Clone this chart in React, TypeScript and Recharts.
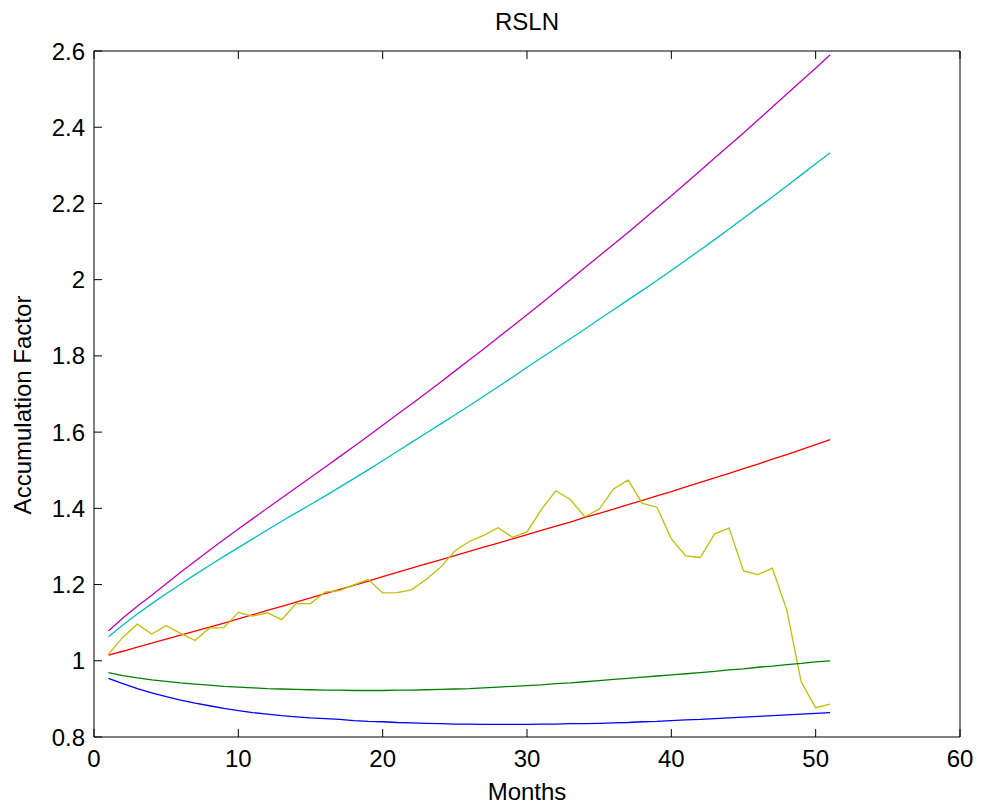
import React from "react";
import { LineChart, Line, XAxis, YAxis, Label } from "recharts";

const months = [
  1, 2, 3, 4, 5, 6, 7, 8, 9, 10, 11, 12, 13, 14, 15, 16, 17, 18, 19, 20, 21, 22, 23, 24, 25, 26,
  27, 28, 29, 30, 31, 32, 33, 34, 35, 36, 37, 38, 39, 40, 41, 42, 43, 44, 45, 46, 47, 48, 49, 50, 51,
];

const magenta = [
  1.078, 1.112, 1.143, 1.172, 1.202, 1.232, 1.261, 1.29, 1.318, 1.346, 1.373, 1.4, 1.427, 1.454,
  1.481, 1.508, 1.535, 1.562, 1.59, 1.618, 1.646, 1.674, 1.702, 1.731, 1.76, 1.789, 1.818, 1.848,
  1.878, 1.908, 1.938, 1.969, 2.0, 2.031, 2.062, 2.093, 2.124, 2.156, 2.188, 2.22, 2.253, 2.286,
  2.319, 2.352, 2.385, 2.419, 2.453, 2.487, 2.521, 2.555, 2.59,
];

const cyan = [
  1.063, 1.094, 1.123, 1.15, 1.176, 1.201, 1.226, 1.25, 1.274, 1.297, 1.32, 1.343, 1.366, 1.388,
  1.41, 1.432, 1.455, 1.478, 1.501, 1.525, 1.549, 1.573, 1.597, 1.621, 1.645, 1.669, 1.694, 1.719,
  1.744, 1.77, 1.795, 1.82, 1.845, 1.87, 1.896, 1.921, 1.947, 1.972, 1.998, 2.024, 2.051, 2.078,
  2.105, 2.133, 2.161, 2.189, 2.217, 2.246, 2.275, 2.304, 2.333,
];

const red = [
  1.015, 1.025, 1.036, 1.046, 1.057, 1.067, 1.078, 1.088, 1.099, 1.11, 1.121, 1.132, 1.143, 1.154,
  1.165, 1.176, 1.187, 1.198, 1.209, 1.221, 1.232, 1.243, 1.254, 1.265, 1.276, 1.287, 1.298, 1.309,
  1.32, 1.331, 1.342, 1.353, 1.364, 1.376, 1.387, 1.398, 1.41, 1.421, 1.433, 1.444, 1.456, 1.468,
  1.48, 1.492, 1.504, 1.516, 1.529, 1.541, 1.554, 1.567, 1.58,
];

const yellow = [
  1.017, 1.062, 1.096, 1.07, 1.092, 1.072, 1.053, 1.086, 1.087, 1.127, 1.117, 1.126, 1.108, 1.15,
  1.15, 1.18, 1.184, 1.199, 1.213, 1.178, 1.179, 1.186, 1.213, 1.245, 1.288, 1.313, 1.329, 1.349,
  1.324, 1.338, 1.397, 1.446, 1.423, 1.378, 1.398, 1.451, 1.474, 1.413, 1.403, 1.32, 1.275, 1.271,
  1.333, 1.348, 1.236, 1.226, 1.243, 1.133, 0.944, 0.877, 0.886,
];

const green = [
  0.969, 0.961, 0.955, 0.95, 0.946, 0.942, 0.939, 0.936, 0.933, 0.931, 0.929, 0.927, 0.926, 0.925,
  0.924, 0.923, 0.923, 0.922, 0.922, 0.922, 0.923, 0.923, 0.924, 0.925, 0.926, 0.927, 0.929, 0.931,
  0.933, 0.935, 0.937, 0.94, 0.942, 0.945, 0.948, 0.951, 0.954, 0.957, 0.96, 0.963, 0.966, 0.969,
  0.972, 0.976, 0.979, 0.983, 0.986, 0.99, 0.993, 0.997, 1.0,
];

const blue = [
  0.954, 0.94, 0.927, 0.916, 0.906, 0.897, 0.889, 0.882, 0.875, 0.869, 0.864, 0.86, 0.856, 0.853,
  0.85, 0.848, 0.846, 0.843, 0.841, 0.84, 0.838, 0.837, 0.836, 0.835, 0.834, 0.834, 0.833, 0.833,
  0.833, 0.833, 0.834, 0.834, 0.835, 0.835, 0.836, 0.837, 0.838, 0.84, 0.841, 0.843, 0.845, 0.846,
  0.848, 0.85, 0.852, 0.854, 0.856, 0.858, 0.86, 0.862, 0.864,
];

const xTicks = [0, 10, 20, 30, 40, 50, 60];
const yTicks = [0.8, 1, 1.2, 1.4, 1.6, 1.8, 2, 2.2, 2.4, 2.6];

const data = months.map((m, i) => ({
  month: m,
  magenta: magenta[i],
  cyan: cyan[i],
  red: red[i],
  yellow: yellow[i],
  green: green[i],
  blue: blue[i],
}));

const series = [
  { key: "magenta", color: "#bf00bf" },
  { key: "cyan", color: "#00bfbf" },
  { key: "red", color: "#ff0000" },
  { key: "yellow", color: "#bfbf00" },
  { key: "green", color: "#008000" },
  { key: "blue", color: "#0000ff" },
];

const FONT = "'Liberation Sans', Arial, Helvetica, sans-serif";
const tickStyle = { fontFamily: FONT, fontSize: 24, fill: "#000" };
const fmtY = (v: number) => String(Number(v.toFixed(1)));
const blank = () => "";

export default function App() {
  return (
    <div style={{ position: "absolute", left: 0, top: 0, background: "#fff" }}>
      <LineChart
        width={982}
        height={808}
        data={data}
        margin={{ top: 31, right: 2, left: 34, bottom: 41 }}
      >
        <XAxis
          xAxisId="bottom"
          dataKey="month"
          type="number"
          domain={[0, 60]}
          ticks={xTicks}
          height={30}
          stroke="#000"
          tickSize={-8}
          tickMargin={21}
          tick={tickStyle}
        >
          <Label
            content={(props: any) => {
              const vb = props.viewBox || {};
              return (
                <text
                  x={vb.x + vb.width / 2}
                  y={vb.y + 63}
                  textAnchor="middle"
                  style={{ fontFamily: FONT, fontSize: 24 }}
                  fill="#000"
                >
                  Months
                </text>
              );
            }}
          />
        </XAxis>
        <XAxis
          xAxisId="top"
          orientation="top"
          dataKey="month"
          type="number"
          domain={[0, 60]}
          ticks={xTicks}
          height={20}
          stroke="#000"
          tickSize={-8}
          tickFormatter={blank}
        >
          <Label
            content={(props: any) => {
              const vb = props.viewBox || {};
              return (
                <text
                  x={vb.x + vb.width / 2}
                  y={vb.y - 1}
                  textAnchor="middle"
                  style={{ fontFamily: FONT, fontSize: 24 }}
                  fill="#000"
                >
                  RSLN
                </text>
              );
            }}
          />
        </XAxis>
        <YAxis
          yAxisId="left"
          type="number"
          domain={[0.8, 2.6]}
          ticks={yTicks}
          width={60}
          stroke="#000"
          tickSize={-8}
          tickMargin={17}
          tick={tickStyle}
          tickFormatter={fmtY}
        >
          <Label
            content={(props: any) => {
              const vb = props.viewBox || {};
              const cy = vb.y + vb.height / 2 + 11;
              return (
                <text
                  x={31}
                  y={cy}
                  transform={`rotate(-90, 31, ${cy})`}
                  textAnchor="middle"
                  style={{ fontFamily: FONT, fontSize: 24 }}
                  fill="#000"
                >
                  Accumulation Factor
                </text>
              );
            }}
          />
        </YAxis>
        <YAxis
          yAxisId="right"
          orientation="right"
          type="number"
          domain={[0.8, 2.6]}
          ticks={yTicks}
          width={20}
          stroke="#000"
          tickSize={-8}
          tickFormatter={blank}
        />
        {series.map((s) => (
          <Line
            key={s.key}
            xAxisId="bottom"
            yAxisId="left"
            type="linear"
            dataKey={s.key}
            stroke={s.color}
            strokeWidth={1.3}
            dot={false}
            isAnimationActive={false}
          />
        ))}
      </LineChart>
    </div>
  );
}
